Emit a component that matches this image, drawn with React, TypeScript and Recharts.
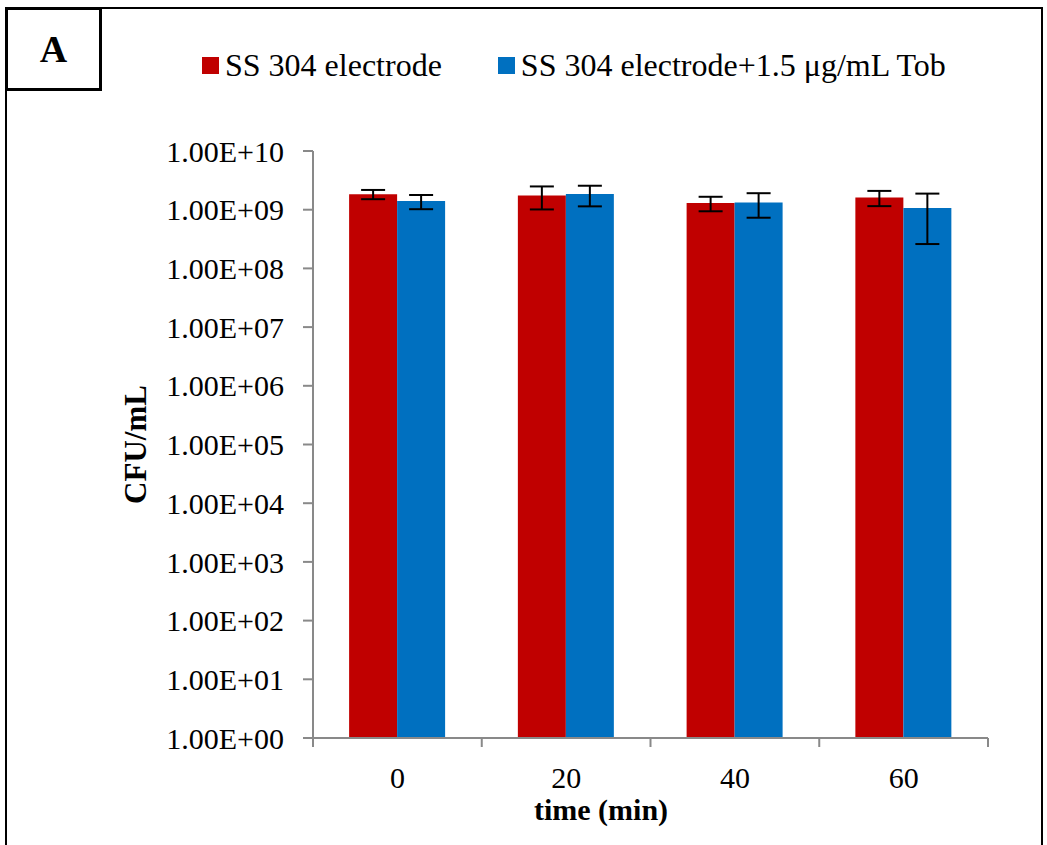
import { Bar, BarChart, ErrorBar, Legend, XAxis, YAxis } from 'recharts'

// sampling times (min)
const times = ['0', '20', '40', '60']

// CFU/mL
const electrode = [1.84e9, 1.75e9, 1.3e9, 1.62e9]
const electrodeSd = [0.33e9, 0.74e9, 0.36e9, 0.47e9]
const electrodeTob = [1.4e9, 1.85e9, 1.32e9, 1.07e9]
const electrodeTobSd = [0.38e9, 0.71e9, 0.59e9, 0.81e9]

const yTicks = [1, 1e1, 1e2, 1e3, 1e4, 1e5, 1e6, 1e7, 1e8, 1e9, 1e10]

const RED = '#C00000'
const BLUE = '#0070C0'
const AXIS = '#898989'
const FONT = '"Liberation Serif", "Times New Roman", serif'

const W = 1047
const H = 845
const PLOT_LEFT = 313
const PLOT_RIGHT = 988
const BAND = (PLOT_RIGHT - PLOT_LEFT) / times.length

const data = times.map((t, i) => ({
  time: t,
  electrode: electrode[i],
  electrodeSd: electrodeSd[i],
  electrodeTob: electrodeTob[i],
  electrodeTobSd: electrodeTobSd[i],
}))

const sciLabel = (v: number) => {
  const e = Math.round(Math.log10(v))
  return `1.00E+${String(e).padStart(2, '0')}`
}

function TimeTick(props: any) {
  const { x, y, payload } = props
  const index = props.index ?? payload?.index ?? 0
  const half = BAND / 2
  return (
    <g>
      <line x1={x - half} y1={y} x2={x - half} y2={y + 9} stroke={AXIS} strokeWidth={2} />
      {index === times.length - 1 && (
        <line x1={x + half} y1={y} x2={x + half} y2={y + 9} stroke={AXIS} strokeWidth={2} />
      )}
      <text x={x} y={y + 50} textAnchor="middle" fontFamily={FONT} fontSize={30} fill="#000">
        {payload.value}
      </text>
    </g>
  )
}

function LegendContent(props: any) {
  const items = props.payload || []
  return (
    <div style={{ display: 'flex', alignItems: 'center', gap: 56, fontFamily: FONT, fontSize: 32, color: '#000' }}>
      {items.map((item: any) => (
        <div key={item.value} style={{ display: 'flex', alignItems: 'center', whiteSpace: 'nowrap' }}>
          <span style={{ display: 'inline-block', width: 17, height: 17, background: item.color, marginRight: 6 }} />
          <span style={{ fontFamily: FONT }}>{item.value}</span>
        </div>
      ))}
    </div>
  )
}

export default function App() {
  return (
    <div style={{ position: 'absolute', left: 0, top: 0, width: W, height: H, background: '#fff', overflow: 'hidden' }}>
      {/* outer frame */}
      <div
        style={{
          position: 'absolute',
          left: 5,
          top: 7,
          width: 1038,
          height: 900,
          border: '2px solid #000',
          boxSizing: 'border-box',
        }}
      />
      {/* panel letter box */}
      <div
        style={{
          position: 'absolute',
          left: 5,
          top: 7,
          width: 97,
          height: 84,
          border: '3px solid #000',
          boxSizing: 'border-box',
          background: '#fff',
          display: 'flex',
          alignItems: 'center',
          justifyContent: 'center',
          fontFamily: FONT,
          fontWeight: 'bold',
          fontSize: 38,
          zIndex: 2,
        }}
      >
        A
      </div>
      <div style={{ position: 'absolute', left: 0, top: 0 }}>
        <BarChart
          width={W}
          height={H}
          data={data}
          margin={{ top: 151, right: W - PLOT_RIGHT, bottom: 0, left: 0 }}
          barCategoryGap="21.4%"
          barGap={0}
        >
          <XAxis
            dataKey="time"
            height={107}
            tickLine={false}
            tickSize={0}
            tickMargin={0}
            axisLine={{ stroke: AXIS, strokeWidth: 2 }}
            tick={<TimeTick />}
            interval={0}
            label={{
              content: (p: any) => (
                <text
                  x={601}
                  y={(p.viewBox?.y ?? 738) + 82}
                  textAnchor="middle"
                  fontFamily={FONT}
                  fontSize={30}
                  fontWeight="bold"
                  fill="#000"
                >
                  time (min)
                </text>
              ),
            }}
          />
          <XAxis
            xAxisId="frame"
            dataKey="time"
            orientation="top"
            height={0}
            tick={false}
            tickLine={false}
            axisLine={{ stroke: AXIS, strokeWidth: 2 }}
          />
          <YAxis
            scale="log"
            type="number"
            domain={[1, 1e10]}
            ticks={yTicks}
            interval={0}
            allowDataOverflow
            width={PLOT_LEFT}
            tickSize={10}
            tickMargin={19}
            tickLine={{ stroke: AXIS, strokeWidth: 2 }}
            axisLine={{ stroke: AXIS, strokeWidth: 2 }}
            tickFormatter={sciLabel}
            tick={{ fontFamily: FONT, fontSize: 30, fill: '#000' }}
            label={{
              content: (p: any) => {
                const cx = 135
                const cy = (p.viewBox?.y ?? 151) + (p.viewBox?.height ?? 587) / 2
                return (
                  <text
                    x={cx}
                    y={cy}
                    transform={`rotate(-90 ${cx} ${cy})`}
                    textAnchor="middle"
                    dominantBaseline="central"
                    fontFamily={FONT}
                    fontSize={31}
                    fontWeight="bold"
                    fill="#000"
                  >
                    CFU/mL
                  </text>
                )
              },
            }}
          />
          <YAxis
            yAxisId="frame"
            orientation="right"
            type="number"
            domain={[0, 1]}
            width={0}
            tick={false}
            tickLine={false}
            axisLine={{ stroke: AXIS, strokeWidth: 2 }}
          />
          <Legend
            layout="horizontal"
            verticalAlign="middle"
            align="center"
            wrapperStyle={{ top: 47, left: 202, width: 'auto', height: 'auto' }}
            content={<LegendContent />}
          />
          <Bar dataKey="electrode" name="SS 304 electrode" fill={RED} isAnimationActive={false}>
            <ErrorBar dataKey="electrodeSd" width={12} stroke="#000" strokeWidth={2} direction="y" />
          </Bar>
          <Bar dataKey="electrodeTob" name="SS 304 electrode+1.5 μg/mL Tob" fill={BLUE} isAnimationActive={false}>
            <ErrorBar dataKey="electrodeTobSd" width={12} stroke="#000" strokeWidth={2} direction="y" />
          </Bar>
        </BarChart>
      </div>
    </div>
  )
}
